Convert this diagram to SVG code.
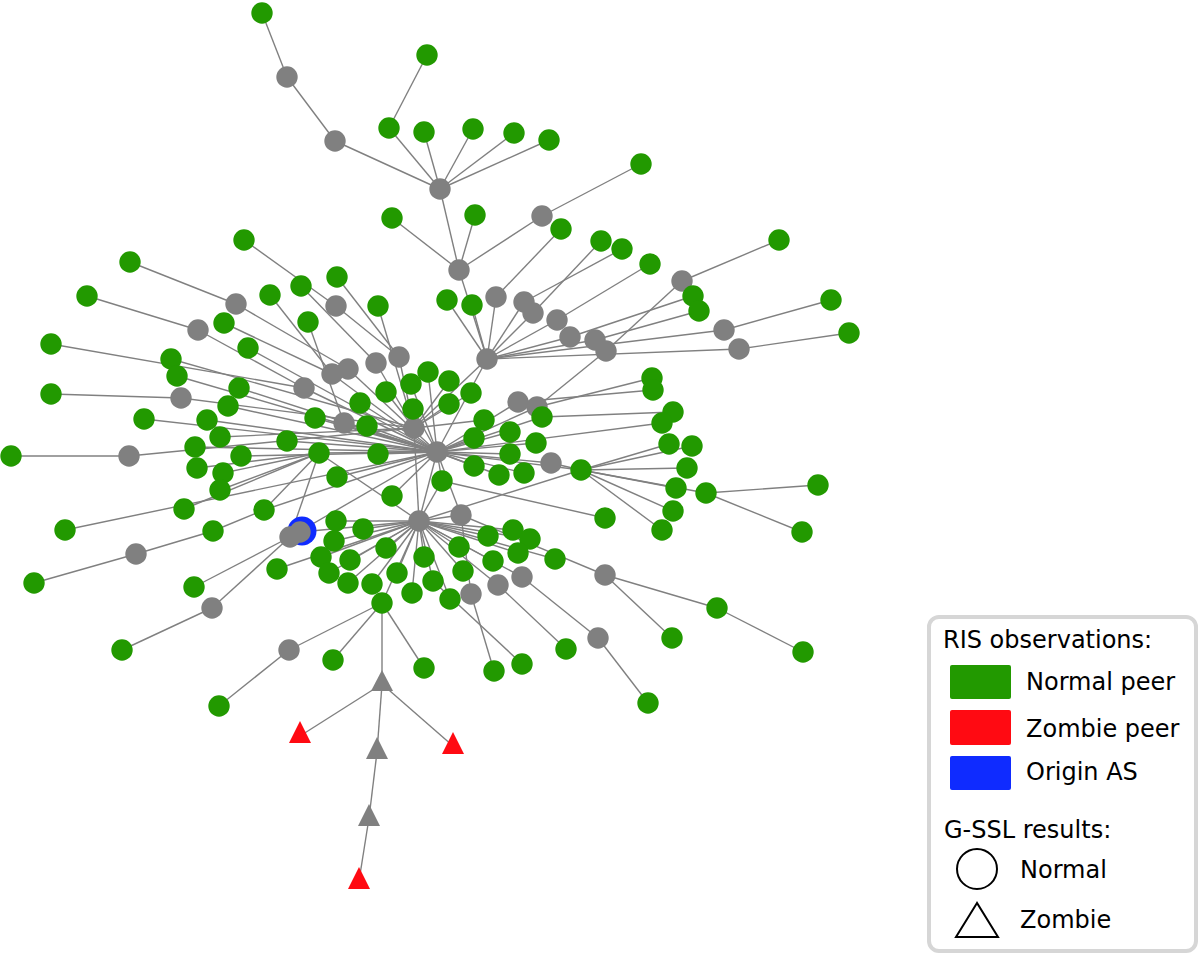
<svg xmlns="http://www.w3.org/2000/svg" width="1200" height="954" viewBox="0 0 1200 954">
<style>
.e line{stroke:#808080;stroke-width:1.4}
.G{fill:#229900}.X{fill:#808080}.R{fill:#ff0a12}.B{fill:#0f2bff}
text{font-family:"DejaVu Sans","Liberation Sans",sans-serif;font-size:24px;fill:#000}
</style>
<rect width="1200" height="954" fill="#fff"/>
<g id="connectors" class="e">
<line x1="262" y1="13" x2="287" y2="77"/><line x1="287" y1="77" x2="335" y2="141"/><line x1="335" y1="141" x2="440" y2="189"/>
<line x1="427" y1="55" x2="389" y2="128"/><line x1="389" y1="128" x2="440" y2="189"/><line x1="424" y1="132" x2="440" y2="189"/>
<line x1="473" y1="129" x2="440" y2="189"/><line x1="514" y1="133" x2="440" y2="189"/><line x1="549" y1="140" x2="440" y2="189"/>
<line x1="440" y1="189" x2="459" y2="270"/><line x1="392" y1="218" x2="459" y2="270"/><line x1="475" y1="215" x2="459" y2="270"/>
<line x1="542" y1="216" x2="459" y2="270"/><line x1="542" y1="216" x2="641" y2="164"/><line x1="459" y1="270" x2="487" y2="359"/>
<line x1="561" y1="229" x2="496" y2="297"/><line x1="496" y1="297" x2="487" y2="359"/><line x1="601" y1="241" x2="533" y2="313"/>
<line x1="533" y1="313" x2="487" y2="359"/><line x1="622" y1="249" x2="524" y2="302"/><line x1="524" y1="302" x2="487" y2="359"/>
<line x1="650" y1="264" x2="557" y2="320"/><line x1="557" y1="320" x2="487" y2="359"/><line x1="779" y1="240" x2="682" y2="281"/>
<line x1="682" y1="281" x2="606" y2="351"/><line x1="606" y1="351" x2="537" y2="407"/><line x1="693" y1="296" x2="570" y2="337"/>
<line x1="570" y1="337" x2="487" y2="359"/><line x1="699" y1="311" x2="595" y2="340"/><line x1="595" y1="340" x2="487" y2="359"/>
<line x1="724" y1="330" x2="831" y2="300"/><line x1="739" y1="349" x2="849" y2="333"/><line x1="724" y1="330" x2="487" y2="359"/>
<line x1="739" y1="349" x2="487" y2="359"/><line x1="447" y1="300" x2="487" y2="359"/><line x1="472" y1="305" x2="487" y2="359"/>
<line x1="487" y1="359" x2="437" y2="452"/><line x1="487" y1="359" x2="414" y2="428"/>
<line x1="244" y1="240" x2="336" y2="306"/><line x1="336" y1="306" x2="399" y2="357"/><line x1="301" y1="286" x2="376" y2="363"/>
<line x1="376" y1="363" x2="414" y2="428"/><line x1="130" y1="262" x2="236" y2="304"/><line x1="236" y1="304" x2="348" y2="369"/>
<line x1="348" y1="369" x2="437" y2="452"/><line x1="87" y1="296" x2="198" y2="330"/><line x1="198" y1="330" x2="304" y2="388"/>
<line x1="304" y1="388" x2="437" y2="452"/><line x1="337" y1="277" x2="399" y2="357"/><line x1="399" y1="357" x2="414" y2="428"/>
<line x1="270" y1="295" x2="332" y2="374"/><line x1="332" y1="374" x2="437" y2="452"/><line x1="224" y1="323" x2="332" y2="374"/>
<line x1="308" y1="322" x2="344" y2="423"/><line x1="344" y1="423" x2="437" y2="452"/><line x1="378" y1="306" x2="414" y2="428"/>
<line x1="51" y1="344" x2="304" y2="388"/><line x1="171" y1="359" x2="414" y2="428"/><line x1="177" y1="376" x2="437" y2="452"/>
<line x1="248" y1="348" x2="437" y2="452"/><line x1="51" y1="394" x2="181" y2="398"/><line x1="181" y1="398" x2="414" y2="428"/>
<line x1="239" y1="388" x2="437" y2="452"/><line x1="228" y1="406" x2="437" y2="452"/><line x1="144" y1="419" x2="437" y2="452"/>
<line x1="207" y1="420" x2="437" y2="452"/><line x1="220" y1="437" x2="414" y2="428"/><line x1="11" y1="456" x2="129" y2="456"/>
<line x1="129" y1="456" x2="414" y2="428"/><line x1="195" y1="447" x2="437" y2="452"/><line x1="241" y1="456" x2="437" y2="452"/>
<line x1="287" y1="441" x2="437" y2="452"/><line x1="315" y1="418" x2="437" y2="452"/><line x1="360" y1="403" x2="437" y2="452"/>
<line x1="367" y1="426" x2="437" y2="452"/><line x1="428" y1="372" x2="437" y2="452"/><line x1="411" y1="384" x2="437" y2="452"/>
<line x1="386" y1="392" x2="414" y2="428"/><line x1="449" y1="381" x2="414" y2="428"/><line x1="471" y1="393" x2="414" y2="428"/>
<line x1="413" y1="409" x2="437" y2="452"/><line x1="449" y1="404" x2="414" y2="428"/><line x1="484" y1="420" x2="414" y2="428"/>
<line x1="518" y1="402" x2="437" y2="452"/><line x1="537" y1="407" x2="437" y2="452"/><line x1="652" y1="378" x2="537" y2="407"/>
<line x1="653" y1="390" x2="518" y2="402"/><line x1="542" y1="417" x2="437" y2="452"/><line x1="673" y1="412" x2="542" y2="417"/>
<line x1="662" y1="423" x2="437" y2="452"/><line x1="474" y1="438" x2="437" y2="452"/><line x1="510" y1="432" x2="437" y2="452"/>
<line x1="536" y1="443" x2="437" y2="452"/><line x1="510" y1="454" x2="437" y2="452"/><line x1="551" y1="463" x2="437" y2="452"/>
<line x1="581" y1="470" x2="551" y2="463"/><line x1="474" y1="466" x2="437" y2="452"/><line x1="499" y1="475" x2="437" y2="452"/>
<line x1="524" y1="473" x2="437" y2="452"/><line x1="442" y1="481" x2="437" y2="452"/><line x1="378" y1="454" x2="437" y2="452"/>
<line x1="337" y1="477" x2="437" y2="452"/><line x1="392" y1="496" x2="437" y2="452"/><line x1="414" y1="428" x2="419" y2="521"/>
<line x1="437" y1="452" x2="419" y2="521"/>
<line x1="197" y1="468" x2="319" y2="453"/><line x1="223" y1="473" x2="319" y2="453"/><line x1="220" y1="490" x2="319" y2="453"/>
<line x1="184" y1="509" x2="319" y2="453"/><line x1="65" y1="530" x2="437" y2="452"/><line x1="213" y1="531" x2="264" y2="510"/>
<line x1="264" y1="510" x2="319" y2="453"/><line x1="264" y1="510" x2="437" y2="452"/><line x1="319" y1="453" x2="437" y2="452"/>
<line x1="319" y1="453" x2="419" y2="521"/><line x1="34" y1="583" x2="136" y2="554"/><line x1="136" y1="554" x2="213" y2="531"/>
<line x1="194" y1="587" x2="290" y2="537"/><line x1="212" y1="608" x2="290" y2="537"/><line x1="122" y1="650" x2="212" y2="608"/>
<line x1="290" y1="537" x2="437" y2="452"/><line x1="300" y1="532" x2="419" y2="521"/><line x1="290" y1="537" x2="319" y2="453"/>
<line x1="336" y1="521" x2="419" y2="521"/><line x1="363" y1="529" x2="419" y2="521"/><line x1="334" y1="541" x2="419" y2="521"/>
<line x1="386" y1="548" x2="419" y2="521"/><line x1="321" y1="557" x2="419" y2="521"/><line x1="350" y1="560" x2="419" y2="521"/>
<line x1="329" y1="573" x2="419" y2="521"/><line x1="348" y1="583" x2="419" y2="521"/><line x1="372" y1="584" x2="419" y2="521"/>
<line x1="397" y1="573" x2="419" y2="521"/><line x1="424" y1="557" x2="419" y2="521"/><line x1="433" y1="581" x2="419" y2="521"/>
<line x1="412" y1="593" x2="419" y2="521"/><line x1="450" y1="599" x2="419" y2="521"/><line x1="459" y1="547" x2="419" y2="521"/>
<line x1="463" y1="571" x2="419" y2="521"/><line x1="488" y1="536" x2="419" y2="521"/><line x1="513" y1="530" x2="419" y2="521"/>
<line x1="530" y1="539" x2="419" y2="521"/><line x1="518" y1="553" x2="419" y2="521"/><line x1="555" y1="559" x2="419" y2="521"/>
<line x1="493" y1="561" x2="419" y2="521"/><line x1="461" y1="515" x2="419" y2="521"/><line x1="461" y1="515" x2="437" y2="452"/>
<line x1="461" y1="515" x2="605" y2="575"/><line x1="605" y1="575" x2="717" y2="608"/><line x1="717" y1="608" x2="803" y2="652"/>
<line x1="605" y1="575" x2="672" y2="638"/><line x1="471" y1="594" x2="461" y2="515"/><line x1="471" y1="594" x2="494" y2="671"/>
<line x1="498" y1="585" x2="419" y2="521"/><line x1="498" y1="585" x2="566" y2="649"/><line x1="522" y1="577" x2="419" y2="521"/>
<line x1="522" y1="577" x2="598" y2="638"/><line x1="598" y1="638" x2="648" y2="703"/><line x1="605" y1="518" x2="442" y2="481"/>
<line x1="277" y1="569" x2="419" y2="521"/><line x1="382" y1="603" x2="419" y2="521"/><line x1="289" y1="650" x2="382" y2="603"/>
<line x1="289" y1="650" x2="219" y2="706"/><line x1="333" y1="660" x2="382" y2="603"/><line x1="424" y1="668" x2="382" y2="603"/>
<line x1="522" y1="664" x2="433" y2="581"/><line x1="382" y1="603" x2="382" y2="684"/><line x1="382" y1="684" x2="300" y2="736"/>
<line x1="382" y1="684" x2="453" y2="746"/><line x1="382" y1="684" x2="377" y2="752"/><line x1="377" y1="752" x2="369" y2="818"/>
<line x1="369" y1="818" x2="359" y2="881"/><line x1="442" y1="481" x2="419" y2="521"/><line x1="581" y1="470" x2="419" y2="521"/>
<line x1="581" y1="470" x2="669" y2="444"/><line x1="581" y1="470" x2="692" y2="446"/><line x1="581" y1="470" x2="687" y2="468"/>
<line x1="581" y1="470" x2="676" y2="488"/><line x1="581" y1="470" x2="706" y2="493"/><line x1="706" y1="493" x2="818" y2="485"/>
<line x1="706" y1="493" x2="802" y2="532"/><line x1="581" y1="470" x2="673" y2="511"/><line x1="581" y1="470" x2="662" y2="530"/>
<line x1="581" y1="470" x2="437" y2="452"/>
</g>
<g id="nodes">
<g id="n1"><circle class="G" cx="262" cy="13" r="10.7"/></g>
<g id="n2"><circle class="X" cx="287" cy="77" r="10.7"/></g>
<g id="n3"><circle class="X" cx="335" cy="141" r="10.7"/></g>
<g id="n4"><circle class="G" cx="427" cy="55" r="10.7"/></g>
<g id="n5"><circle class="G" cx="389" cy="128" r="10.7"/></g>
<g id="n6"><circle class="G" cx="424" cy="132" r="10.7"/></g>
<g id="n7"><circle class="G" cx="473" cy="129" r="10.7"/></g>
<g id="n8"><circle class="G" cx="514" cy="133" r="10.7"/></g>
<g id="n9"><circle class="G" cx="549" cy="140" r="10.7"/></g>
<g id="n10"><circle class="X" cx="440" cy="189" r="10.7"/></g>
<g id="n11"><circle class="G" cx="641" cy="164" r="10.7"/></g>
<g id="n12"><circle class="G" cx="392" cy="218" r="10.7"/></g>
<g id="n13"><circle class="G" cx="475" cy="215" r="10.7"/></g>
<g id="n14"><circle class="X" cx="542" cy="216" r="10.7"/></g>
<g id="n15"><circle class="G" cx="561" cy="229" r="10.7"/></g>
<g id="n16"><circle class="G" cx="601" cy="241" r="10.7"/></g>
<g id="n17"><circle class="G" cx="622" cy="249" r="10.7"/></g>
<g id="n18"><circle class="G" cx="650" cy="264" r="10.7"/></g>
<g id="n19"><circle class="G" cx="779" cy="240" r="10.7"/></g>
<g id="n20"><circle class="X" cx="459" cy="270" r="10.7"/></g>
<g id="n21"><circle class="G" cx="244" cy="240" r="10.7"/></g>
<g id="n22"><circle class="G" cx="130" cy="262" r="10.7"/></g>
<g id="n23"><circle class="G" cx="87" cy="296" r="10.7"/></g>
<g id="n24"><circle class="G" cx="337" cy="277" r="10.7"/></g>
<g id="n25"><circle class="G" cx="301" cy="286" r="10.7"/></g>
<g id="n26"><circle class="G" cx="270" cy="295" r="10.7"/></g>
<g id="n27"><circle class="X" cx="236" cy="304" r="10.7"/></g>
<g id="n28"><circle class="G" cx="447" cy="300" r="10.7"/></g>
<g id="n29"><circle class="G" cx="472" cy="305" r="10.7"/></g>
<g id="n30"><circle class="X" cx="496" cy="297" r="10.7"/></g>
<g id="n31"><circle class="X" cx="524" cy="302" r="10.7"/></g>
<g id="n32"><circle class="X" cx="533" cy="313" r="10.7"/></g>
<g id="n33"><circle class="X" cx="557" cy="320" r="10.7"/></g>
<g id="n34"><circle class="X" cx="570" cy="337" r="10.7"/></g>
<g id="n35"><circle class="X" cx="595" cy="340" r="10.7"/></g>
<g id="n36"><circle class="X" cx="606" cy="351" r="10.7"/></g>
<g id="n37"><circle class="X" cx="682" cy="281" r="10.7"/></g>
<g id="n38"><circle class="G" cx="693" cy="296" r="10.7"/></g>
<g id="n39"><circle class="G" cx="699" cy="311" r="10.7"/></g>
<g id="n40"><circle class="G" cx="831" cy="300" r="10.7"/></g>
<g id="n41"><circle class="G" cx="849" cy="333" r="10.7"/></g>
<g id="n42"><circle class="X" cx="724" cy="330" r="10.7"/></g>
<g id="n43"><circle class="X" cx="739" cy="349" r="10.7"/></g>
<g id="n44"><circle class="X" cx="198" cy="330" r="10.7"/></g>
<g id="n45"><circle class="G" cx="224" cy="323" r="10.7"/></g>
<g id="n46"><circle class="G" cx="308" cy="322" r="10.7"/></g>
<g id="n47"><circle class="G" cx="378" cy="306" r="10.7"/></g>
<g id="n48"><circle class="X" cx="336" cy="306" r="10.7"/></g>
<g id="n49"><circle class="G" cx="51" cy="344" r="10.7"/></g>
<g id="n50"><circle class="G" cx="248" cy="348" r="10.7"/></g>
<g id="n51"><circle class="G" cx="171" cy="359" r="10.7"/></g>
<g id="n52"><circle class="G" cx="177" cy="376" r="10.7"/></g>
<g id="n53"><circle class="X" cx="399" cy="357" r="10.7"/></g>
<g id="n54"><circle class="X" cx="376" cy="363" r="10.7"/></g>
<g id="n55"><circle class="X" cx="348" cy="369" r="10.7"/></g>
<g id="n56"><circle class="X" cx="332" cy="374" r="10.7"/></g>
<g id="n57"><circle class="X" cx="487" cy="359" r="10.7"/></g>
<g id="n58"><circle class="G" cx="428" cy="372" r="10.7"/></g>
<g id="n59"><circle class="G" cx="411" cy="384" r="10.7"/></g>
<g id="n60"><circle class="G" cx="386" cy="392" r="10.7"/></g>
<g id="n61"><circle class="G" cx="449" cy="381" r="10.7"/></g>
<g id="n62"><circle class="G" cx="471" cy="393" r="10.7"/></g>
<g id="n63"><circle class="G" cx="360" cy="403" r="10.7"/></g>
<g id="n64"><circle class="G" cx="51" cy="394" r="10.7"/></g>
<g id="n65"><circle class="X" cx="181" cy="398" r="10.7"/></g>
<g id="n66"><circle class="G" cx="239" cy="388" r="10.7"/></g>
<g id="n67"><circle class="G" cx="228" cy="406" r="10.7"/></g>
<g id="n68"><circle class="X" cx="304" cy="388" r="10.7"/></g>
<g id="n69"><circle class="G" cx="652" cy="378" r="10.7"/></g>
<g id="n70"><circle class="G" cx="653" cy="390" r="10.7"/></g>
<g id="n71"><circle class="G" cx="144" cy="419" r="10.7"/></g>
<g id="n72"><circle class="G" cx="207" cy="420" r="10.7"/></g>
<g id="n73"><circle class="G" cx="220" cy="437" r="10.7"/></g>
<g id="n74"><circle class="G" cx="315" cy="418" r="10.7"/></g>
<g id="n75"><circle class="X" cx="344" cy="423" r="10.7"/></g>
<g id="n76"><circle class="G" cx="367" cy="426" r="10.7"/></g>
<g id="n77"><circle class="X" cx="414" cy="428" r="10.7"/></g>
<g id="n78"><circle class="G" cx="413" cy="409" r="10.7"/></g>
<g id="n79"><circle class="G" cx="449" cy="404" r="10.7"/></g>
<g id="n80"><circle class="G" cx="484" cy="420" r="10.7"/></g>
<g id="n81"><circle class="X" cx="518" cy="402" r="10.7"/></g>
<g id="n82"><circle class="X" cx="537" cy="407" r="10.7"/></g>
<g id="n83"><circle class="G" cx="542" cy="417" r="10.7"/></g>
<g id="n84"><circle class="G" cx="673" cy="412" r="10.7"/></g>
<g id="n85"><circle class="G" cx="662" cy="423" r="10.7"/></g>
<g id="n86"><circle class="G" cx="11" cy="456" r="10.7"/></g>
<g id="n87"><circle class="X" cx="129" cy="456" r="10.7"/></g>
<g id="n88"><circle class="G" cx="195" cy="447" r="10.7"/></g>
<g id="n89"><circle class="G" cx="241" cy="456" r="10.7"/></g>
<g id="n90"><circle class="G" cx="287" cy="441" r="10.7"/></g>
<g id="n91"><circle class="G" cx="319" cy="453" r="10.7"/></g>
<g id="n92"><circle class="G" cx="378" cy="454" r="10.7"/></g>
<g id="n93"><circle class="X" cx="437" cy="452" r="10.7"/></g>
<g id="n94"><circle class="G" cx="474" cy="438" r="10.7"/></g>
<g id="n95"><circle class="G" cx="510" cy="432" r="10.7"/></g>
<g id="n96"><circle class="G" cx="536" cy="443" r="10.7"/></g>
<g id="n97"><circle class="G" cx="510" cy="454" r="10.7"/></g>
<g id="n98"><circle class="X" cx="551" cy="463" r="10.7"/></g>
<g id="n99"><circle class="G" cx="581" cy="470" r="10.7"/></g>
<g id="n100"><circle class="G" cx="669" cy="444" r="10.7"/></g>
<g id="n101"><circle class="G" cx="692" cy="446" r="10.7"/></g>
<g id="n102"><circle class="G" cx="687" cy="468" r="10.7"/></g>
<g id="n103"><circle class="G" cx="197" cy="468" r="10.7"/></g>
<g id="n104"><circle class="G" cx="223" cy="473" r="10.7"/></g>
<g id="n105"><circle class="G" cx="220" cy="490" r="10.7"/></g>
<g id="n106"><circle class="G" cx="337" cy="477" r="10.7"/></g>
<g id="n107"><circle class="G" cx="442" cy="481" r="10.7"/></g>
<g id="n108"><circle class="G" cx="474" cy="466" r="10.7"/></g>
<g id="n109"><circle class="G" cx="499" cy="475" r="10.7"/></g>
<g id="n110"><circle class="G" cx="524" cy="473" r="10.7"/></g>
<g id="n111"><circle class="G" cx="676" cy="488" r="10.7"/></g>
<g id="n112"><circle class="G" cx="706" cy="493" r="10.7"/></g>
<g id="n113"><circle class="G" cx="818" cy="485" r="10.7"/></g>
<g id="n114"><circle class="G" cx="184" cy="509" r="10.7"/></g>
<g id="n115"><circle class="G" cx="264" cy="510" r="10.7"/></g>
<g id="n116"><circle class="G" cx="392" cy="496" r="10.7"/></g>
<g id="n117"><circle class="G" cx="605" cy="518" r="10.7"/></g>
<g id="n118"><circle class="G" cx="673" cy="511" r="10.7"/></g>
<g id="n119"><circle class="G" cx="662" cy="530" r="10.7"/></g>
<g id="n120"><circle class="G" cx="802" cy="532" r="10.7"/></g>
<g id="n121"><circle class="G" cx="65" cy="530" r="10.7"/></g>
<g id="n122"><circle class="G" cx="213" cy="531" r="10.7"/></g>
<g id="n123"><circle class="B" cx="302" cy="531" r="14.5"/><circle class="X" cx="300" cy="532" r="10.7"/></g>
<g id="n124"><circle class="X" cx="290" cy="537" r="10.7"/></g>
<g id="n125"><circle class="G" cx="336" cy="521" r="10.7"/></g>
<g id="n126"><circle class="G" cx="363" cy="529" r="10.7"/></g>
<g id="n127"><circle class="X" cx="419" cy="521" r="10.7"/></g>
<g id="n128"><circle class="X" cx="461" cy="515" r="10.7"/></g>
<g id="n129"><circle class="G" cx="488" cy="536" r="10.7"/></g>
<g id="n130"><circle class="G" cx="513" cy="530" r="10.7"/></g>
<g id="n131"><circle class="G" cx="530" cy="539" r="10.7"/></g>
<g id="n132"><circle class="G" cx="334" cy="541" r="10.7"/></g>
<g id="n133"><circle class="G" cx="386" cy="548" r="10.7"/></g>
<g id="n134"><circle class="G" cx="321" cy="557" r="10.7"/></g>
<g id="n135"><circle class="G" cx="350" cy="560" r="10.7"/></g>
<g id="n136"><circle class="G" cx="518" cy="553" r="10.7"/></g>
<g id="n137"><circle class="G" cx="555" cy="559" r="10.7"/></g>
<g id="n138"><circle class="G" cx="277" cy="569" r="10.7"/></g>
<g id="n139"><circle class="G" cx="329" cy="573" r="10.7"/></g>
<g id="n140"><circle class="G" cx="348" cy="583" r="10.7"/></g>
<g id="n141"><circle class="G" cx="372" cy="584" r="10.7"/></g>
<g id="n142"><circle class="G" cx="397" cy="573" r="10.7"/></g>
<g id="n143"><circle class="G" cx="424" cy="557" r="10.7"/></g>
<g id="n144"><circle class="G" cx="433" cy="581" r="10.7"/></g>
<g id="n145"><circle class="G" cx="459" cy="547" r="10.7"/></g>
<g id="n146"><circle class="G" cx="463" cy="571" r="10.7"/></g>
<g id="n147"><circle class="G" cx="493" cy="561" r="10.7"/></g>
<g id="n148"><circle class="X" cx="498" cy="585" r="10.7"/></g>
<g id="n149"><circle class="X" cx="522" cy="577" r="10.7"/></g>
<g id="n150"><circle class="X" cx="605" cy="575" r="10.7"/></g>
<g id="n151"><circle class="G" cx="34" cy="583" r="10.7"/></g>
<g id="n152"><circle class="X" cx="136" cy="554" r="10.7"/></g>
<g id="n153"><circle class="G" cx="194" cy="587" r="10.7"/></g>
<g id="n154"><circle class="X" cx="212" cy="608" r="10.7"/></g>
<g id="n155"><circle class="G" cx="382" cy="603" r="10.7"/></g>
<g id="n156"><circle class="G" cx="412" cy="593" r="10.7"/></g>
<g id="n157"><circle class="G" cx="450" cy="599" r="10.7"/></g>
<g id="n158"><circle class="X" cx="471" cy="594" r="10.7"/></g>
<g id="n159"><circle class="G" cx="717" cy="608" r="10.7"/></g>
<g id="n160"><circle class="G" cx="122" cy="650" r="10.7"/></g>
<g id="n161"><circle class="X" cx="289" cy="650" r="10.7"/></g>
<g id="n162"><circle class="G" cx="333" cy="660" r="10.7"/></g>
<g id="n163"><circle class="G" cx="424" cy="668" r="10.7"/></g>
<g id="n164"><circle class="G" cx="494" cy="671" r="10.7"/></g>
<g id="n165"><circle class="G" cx="522" cy="664" r="10.7"/></g>
<g id="n166"><circle class="G" cx="566" cy="649" r="10.7"/></g>
<g id="n167"><circle class="X" cx="598" cy="638" r="10.7"/></g>
<g id="n168"><circle class="G" cx="672" cy="638" r="10.7"/></g>
<g id="n169"><circle class="G" cx="803" cy="652" r="10.7"/></g>
<g id="n170"><circle class="G" cx="648" cy="703" r="10.7"/></g>
<g id="n171"><circle class="G" cx="219" cy="706" r="10.7"/></g>
<g id="n172"><polygon class="X" points="382,670 371,691 393,691"/></g>
<g id="n173"><polygon class="R" points="300,721 289,743 311,743"/></g>
<g id="n174"><polygon class="R" points="453,732 442,754 464,754"/></g>
<g id="n175"><polygon class="X" points="377,737 366,759 388,759"/></g>
<g id="n176"><polygon class="X" points="369,804 358,826 380,826"/></g>
<g id="n177"><polygon class="R" points="359,867 348,889 370,889"/></g>
</g>
<g id="legend">
<rect x="929" y="617" width="267" height="334" rx="10" fill="#fff" stroke="#d6d6d6" stroke-width="4"/>
<text x="943" y="648">RIS observations:</text>
<rect x="950" y="665" width="61" height="34" rx="2" class="G"/>
<text x="1026" y="690">Normal peer</text>
<rect x="950" y="710" width="61" height="35" rx="2" class="R"/>
<text x="1026" y="737">Zombie peer</text>
<rect x="950" y="756" width="61" height="34" rx="2" class="B"/>
<text x="1026" y="780">Origin AS</text>
<text x="944" y="838">G-SSL results:</text>
<circle cx="977" cy="869" r="20" fill="none" stroke="#000" stroke-width="2"/>
<text x="1020" y="878">Normal</text>
<polygon points="977,903 956,937 998,937" fill="none" stroke="#000" stroke-width="2" stroke-linejoin="miter"/>
<text x="1020" y="928">Zombie</text>
</g>
</svg>
